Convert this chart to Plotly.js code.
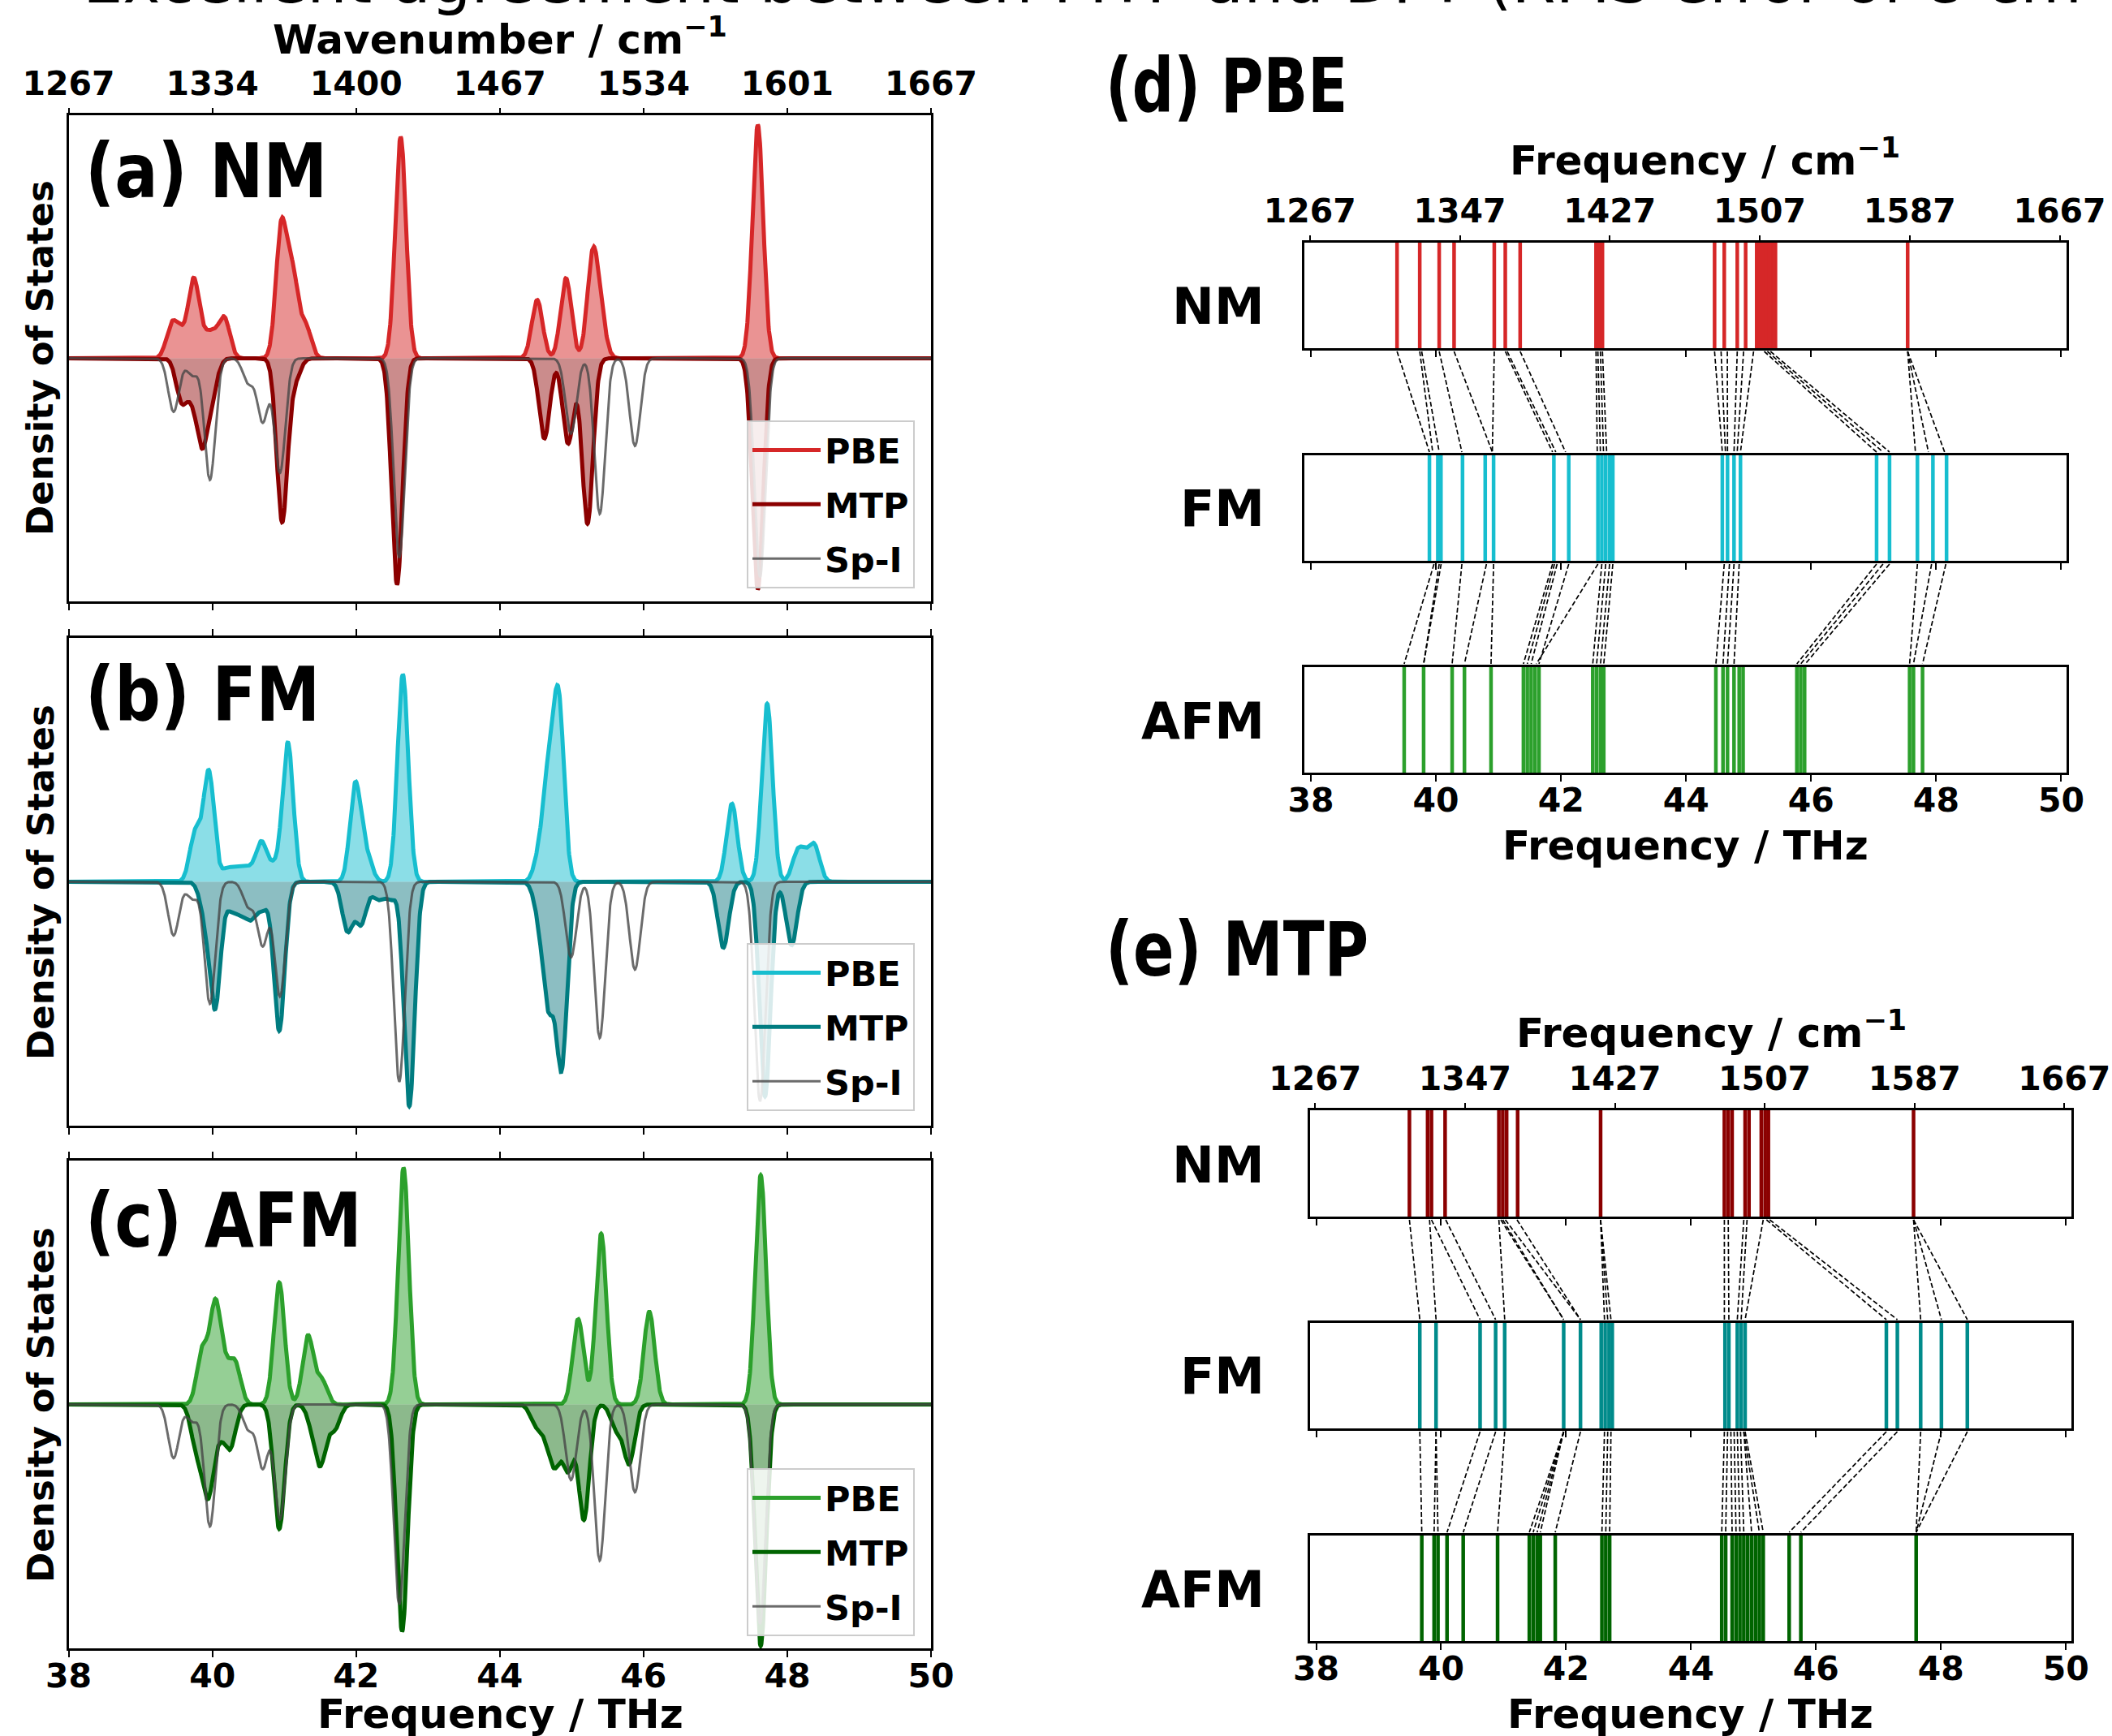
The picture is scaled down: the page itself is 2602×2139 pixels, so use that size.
<!DOCTYPE html>
<html><head><meta charset="utf-8">
<script src="https://cdn.plot.ly/plotly-3.0.1.min.js"></script>
<style>html,body{margin:0;padding:0;background:#fff}#chart{width:2602px;height:2139px}</style>
</head><body><div id="chart"></div>
<script>
// ---------------- DATA ----------------
const thz_ticks = [38, 40, 42, 44, 46, 48, 50];
const wn_top_labels = ['1267', '1334', '1400', '1467', '1534', '1601', '1667'];
const cm_ticks = [1267, 1347, 1427, 1507, 1587, 1667];

// DOS peaks (centre in THz, peak DOS in arbitrary units; MTP & Sp-I drawn downward)
const nm_pbe_thz = [39.43, 39.56, 39.74, 39.90, 40.02, 40.17, 40.96, 41.12, 41.30, 42.62, 44.52, 44.92, 45.29, 45.40, 47.59];
const nm_pbe_dos = [0.13, 0.09, 0.32, 0.07, 0.08, 0.16, 0.54, 0.33, 0.13, 0.91, 0.24, 0.33, 0.40, 0.15, 0.96];
const nm_mtp_thz = [39.57, 39.72, 39.86, 40.00, 40.97, 41.15, 42.57, 44.62, 44.95, 45.22, 47.59];
const nm_mtp_dos = [-0.17, -0.12, -0.33, -0.12, -0.67, -0.08, -0.93, -0.33, -0.35, -0.68, -0.95];

const fm_pbe_thz = [39.76, 39.95, 40.20, 40.35, 40.50, 40.68, 40.85, 41.05, 41.99, 42.15, 42.65, 44.55, 44.68, 44.82, 47.23, 47.72, 48.14, 48.25, 48.38];
const fm_pbe_dos = [0.20, 0.45, 0.05, 0.05, 0.05, 0.16, 0.06, 0.57, 0.40, 0.10, 0.85, 0.10, 0.40, 0.72, 0.32, 0.73, 0.11, 0.07, 0.14];
const fm_mtp_thz = [39.90, 40.04, 40.26, 40.40, 40.54, 40.70, 40.93, 41.88, 42.07, 42.30, 42.48, 42.74, 44.55, 44.68, 44.86, 47.11, 47.69, 48.06];
const fm_mtp_dos = [-0.12, -0.50, -0.10, -0.10, -0.13, -0.10, -0.61, -0.20, -0.17, -0.07, -0.07, -0.92, -0.12, -0.47, -0.75, -0.27, -0.88, -0.26];

const afm_pbe_thz = [39.86, 40.04, 40.18, 40.32, 40.93, 41.33, 41.52, 42.66, 45.09, 45.41, 46.08, 47.63];
const afm_pbe_dos = [0.22, 0.40, 0.12, 0.16, 0.50, 0.28, 0.10, 0.97, 0.35, 0.70, 0.38, 0.94];
const afm_mtp_thz = [39.78, 39.94, 40.10, 40.25, 40.93, 41.40, 41.51, 41.70, 42.64, 44.50, 44.65, 44.77, 44.95, 45.17, 45.62, 45.80, 47.63];
const afm_mtp_dos = [-0.18, -0.36, -0.10, -0.17, -0.51, -0.08, -0.22, -0.10, -0.93, -0.08, -0.10, -0.22, -0.26, -0.47, -0.10, -0.24, -0.99];

const spi_thz = [39.46, 39.72, 39.965, 40.50, 40.70, 40.94, 42.60, 44.99, 45.39, 45.88, 47.62];
const spi_dos = [-0.22, -0.07, -0.50, -0.10, -0.26, -0.47, -0.82, -0.31, -0.64, -0.36, -0.90];

// (d) PBE mode frequencies (THz)
const d_nm = [39.378, 39.741, 40.052, 40.290, 40.933, 41.109, 41.347, 42.560, 42.611, 42.663, 44.456, 44.611, 44.819, 44.953, 45.130, 45.180, 45.230, 45.280, 45.330, 45.380, 45.430, 47.544];
const d_fm = [39.896, 40.030, 40.080, 40.425, 40.788, 40.922, 41.886, 42.124, 42.591, 42.653, 42.715, 42.777, 42.829, 44.580, 44.663, 44.767, 44.870, 47.047, 47.254, 47.700, 47.948, 48.166];
const d_afm = [39.492, 39.803, 40.259, 40.456, 40.881, 41.399, 41.461, 41.523, 41.585, 41.648, 42.508, 42.570, 42.632, 42.684, 44.477, 44.591, 44.663, 44.767, 44.850, 44.912, 45.772, 45.834, 45.896, 47.575, 47.637, 47.782];
const d_nm_fm_from = [39.378, 39.741, 39.772, 40.052, 40.290, 40.933, 41.109, 41.140, 41.347, 42.560, 42.590, 42.630, 42.663, 44.456, 44.560, 44.660, 44.819, 44.920, 45.080, 45.250, 45.300, 45.350, 47.544, 47.544, 47.544];
const d_nm_fm_to = [39.896, 39.948, 40.052, 40.415, 40.902, 40.902, 41.865, 41.917, 42.073, 42.580, 42.630, 42.680, 42.730, 44.580, 44.630, 44.663, 44.767, 44.818, 44.870, 47.047, 47.150, 47.254, 47.668, 47.876, 48.135];
const d_fm_afm_from = [39.969, 40.052, 40.083, 40.415, 40.808, 40.922, 41.865, 41.896, 41.938, 42.124, 42.591, 42.653, 42.715, 42.777, 42.829, 44.611, 44.694, 44.767, 44.850, 47.047, 47.150, 47.254, 47.700, 47.927, 48.155];
const d_fm_afm_to = [39.492, 39.803, 39.803, 40.259, 40.456, 40.881, 41.399, 41.461, 41.523, 41.648, 41.606, 42.508, 42.570, 42.632, 42.684, 44.477, 44.591, 44.663, 44.767, 45.772, 45.834, 45.907, 47.575, 47.637, 47.782];

// (e) MTP mode frequencies (THz)
const e_nm = [39.493, 39.784, 39.846, 40.064, 40.925, 40.987, 41.049, 41.225, 42.553, 44.534, 44.596, 44.658, 44.866, 44.928, 45.125, 45.187, 45.239, 47.562];
const e_fm = [39.659, 39.919, 40.624, 40.873, 41.018, 41.962, 42.231, 42.563, 42.626, 42.688, 42.740, 44.544, 44.606, 44.741, 44.803, 44.866, 47.127, 47.303, 47.676, 48.008, 48.423];
const e_afm = [39.691, 39.888, 39.950, 40.095, 40.354, 40.904, 41.412, 41.474, 41.537, 41.588, 41.827, 42.574, 42.636, 42.698, 44.492, 44.555, 44.658, 44.721, 44.783, 44.845, 44.907, 44.970, 45.032, 45.094, 45.156, 45.571, 45.758, 47.604];
const e_nm_fm_from = [39.493, 39.815, 39.846, 40.074, 40.925, 40.956, 40.987, 41.028, 41.215, 42.553, 42.553, 42.553, 44.534, 44.596, 44.845, 44.897, 45.156, 45.208, 45.260, 47.562, 47.562, 47.562];
const e_nm_fm_to = [39.659, 39.919, 40.624, 40.873, 41.018, 41.962, 41.962, 42.231, 42.231, 42.615, 42.667, 42.719, 44.534, 44.606, 44.741, 44.803, 44.866, 47.127, 47.303, 47.676, 48.008, 48.423];
const e_fm_afm_from = [39.659, 39.919, 39.919, 40.624, 40.873, 41.018, 41.962, 41.962, 41.962, 41.962, 42.231, 42.615, 42.667, 42.719, 44.534, 44.586, 44.638, 44.690, 44.741, 44.793, 44.845, 44.845, 44.866, 47.127, 47.303, 47.676, 48.008, 48.423];
const e_fm_afm_to = [39.691, 39.888, 39.950, 40.095, 40.354, 40.904, 41.412, 41.474, 41.537, 41.588, 41.827, 42.574, 42.636, 42.698, 44.492, 44.555, 44.658, 44.721, 44.783, 44.845, 44.970, 45.094, 45.156, 45.571, 45.758, 47.604, 47.604, 47.604];

// ---------------- BUILD ----------------
const W = 2602, H = 2139;
const px = v => v / W, py = v => 1 - v / H;
const xdom = (a, b) => [a / W, b / W];
const ydom = (top, bot) => [1 - bot / H, 1 - top / H];
const F = 'DejaVu Sans, Noto Sans, sans-serif';
const CM_PER_THZ = 33.356;
const XR = [37.896, 50.085];

const SIGMA = 0.075;
const grid = [];
for (let i = 0; i <= 2400; i++) grid.push(+(38 + i * 0.005).toFixed(3));
function broaden(c, h) {
  return grid.map(x => { let s = 0; for (let k = 0; k < c.length; k++) { const d = x - c[k]; s += h[k] * Math.exp(-d * d / (2 * SIGMA * SIGMA)); } return s; });
}

const traces = [];
function dosPanel(xa, ya, leg, pbe, mtp, cols) {
  const yp = broaden(pbe[0], pbe[1]), ym = broaden(mtp[0], mtp[1]), ys = broaden(spi_thz, spi_dos);
  traces.push({x: grid, y: yp, xaxis: xa, yaxis: ya, type: 'scatter', mode: 'lines', fill: 'tozeroy', fillcolor: cols.pf, line: {width: 0, color: cols.p}, showlegend: false, hoverinfo: 'skip'});
  traces.push({x: grid, y: yp, xaxis: xa, yaxis: ya, type: 'scatter', mode: 'lines', line: {width: 5, color: cols.p}, name: 'PBE', legend: leg, legendgroup: leg + 'p'});
  traces.push({x: grid, y: ym, xaxis: xa, yaxis: ya, type: 'scatter', mode: 'lines', fill: 'tozeroy', fillcolor: cols.mf, line: {width: 0, color: cols.m}, showlegend: false, hoverinfo: 'skip'});
  traces.push({x: grid, y: ym, xaxis: xa, yaxis: ya, type: 'scatter', mode: 'lines', line: {width: 5, color: cols.m}, name: 'MTP', legend: leg, legendgroup: leg + 'm'});
  traces.push({x: grid, y: ys, xaxis: xa, yaxis: ya, type: 'scatter', mode: 'lines', line: {width: 3, color: 'rgba(70,70,70,0.8)'}, name: 'Sp-I', legend: leg, legendgroup: leg + 's'});
}
const C_NM = {p: '#d62728', pf: 'rgba(214,39,40,0.5)', m: '#8b0000', mf: 'rgba(139,0,0,0.45)'};
const C_FM = {p: '#17becf', pf: 'rgba(23,190,207,0.5)', m: '#007c80', mf: 'rgba(0,110,120,0.45)'};
const C_AFM = {p: '#2ca02c', pf: 'rgba(44,160,44,0.5)', m: '#006400', mf: 'rgba(0,100,0,0.45)'};
dosPanel('x', 'y', 'legend', [nm_pbe_thz, nm_pbe_dos], [nm_mtp_thz, nm_mtp_dos], C_NM);
dosPanel('x2', 'y2', 'legend2', [fm_pbe_thz, fm_pbe_dos], [fm_mtp_thz, fm_mtp_dos], C_FM);
dosPanel('x3', 'y3', 'legend3', [afm_pbe_thz, afm_pbe_dos], [afm_mtp_thz, afm_mtp_dos], C_AFM);

function vlines(arr, xa, ya, color) {
  const x = [], y = [];
  arr.forEach(f => { x.push(f, f, null); y.push(0, 1, null); });
  traces.push({x, y, xaxis: xa, yaxis: ya, type: 'scatter', mode: 'lines', line: {width: 4.5, color}, showlegend: false, hoverinfo: 'skip'});
}
function connect(from, to, y0, y1, xa, ya) {
  const x = [], y = [];
  from.forEach((f, i) => { x.push(f, to[i], null); y.push(y0, y1, null); });
  traces.push({x, y, xaxis: xa, yaxis: ya, type: 'scatter', mode: 'lines', line: {width: 1.7, color: '#000', dash: '6px,3px'}, showlegend: false, hoverinfo: 'skip'});
}
vlines(d_nm, 'x5', 'y5', '#d62728');
vlines(d_fm, 'x6', 'y6', '#17becf');
vlines(d_afm, 'x7', 'y7', '#2ca02c');
connect(d_nm_fm_from, d_nm_fm_to, 433, 557, 'x9', 'y9');
connect(d_fm_afm_from, d_fm_afm_to, 695, 818, 'x9', 'y9');
vlines(e_nm, 'x10', 'y10', '#8b0000');
vlines(e_fm, 'x11', 'y11', '#008b8b');
vlines(e_afm, 'x12', 'y12', '#006400');
connect(e_nm_fm_from, e_nm_fm_to, 1503, 1626, 'x14', 'y14');
connect(e_fm_afm_from, e_fm_afm_to, 1764, 1888, 'x14', 'y14');
// empty carriers so that the secondary (top) wavenumber axes get drawn
[['x4', 'y'], ['x8', 'y5'], ['x13', 'y10']].forEach(([xa, ya]) =>
  traces.push({x: [null], y: [null], xaxis: xa, yaxis: ya, type: 'scatter', mode: 'lines', showlegend: false, hoverinfo: 'skip'}));

// ---------------- LAYOUT ----------------
const tickF = {family: F, size: 41, weight: 700, color: '#000'};
function xax(dom, anchor, range, opts) {
  return Object.assign({domain: dom, anchor, range, autorange: false, tickvals: thz_ticks, ticks: 'outside', ticklen: 8, tickwidth: 2,
    tickcolor: '#000', showticklabels: false, tickfont: tickF, ticklabelstandoff: -12, showline: true, linewidth: 3, linecolor: '#000', mirror: true,
    showgrid: false, zeroline: false}, opts || {});
}
function yax(dom, anchor, range) {
  return {domain: dom, anchor, range, autorange: false, showticklabels: false, ticks: '', showline: true, linewidth: 3,
    linecolor: '#000', mirror: true, showgrid: false, zeroline: false};
}
function topax(over, anchor, range, vals, text) {
  return {overlaying: over, anchor, side: 'top', range, autorange: false, tickvals: vals, ticktext: text,
    ticks: 'outside', ticklen: 8, tickwidth: 2, tickcolor: '#000', tickfont: tickF, showticklabels: true, showline: false, showgrid: false, zeroline: false};
}
const LX = xdom(84.6, 1147);
const DX = xdom(1607, 2546);
const EX = xdom(1613.5, 2551.7);
const cm_pos = cm_ticks.map(c => c / CM_PER_THZ);
const cm_txt = cm_ticks.map(String);

function legendAt(top) {
  return {x: px(1127), xanchor: 'right', y: py(top), yanchor: 'top', bgcolor: 'rgba(255,255,255,0.85)', bordercolor: '#cccccc',
    borderwidth: 2, font: {family: F, size: 43, weight: 700, color: '#000'}, itemwidth: 84, tracegroupgap: 8, traceorder: 'grouped'};
}

const layout = {
  width: W, height: H, margin: {l: 0, r: 0, t: 0, b: 0}, paper_bgcolor: '#fff', plot_bgcolor: 'rgba(0,0,0,0)',
  xaxis: xax(LX, 'y', [38, 50]),
  yaxis: yax(ydom(142, 741), 'x', [-1, 1]),
  xaxis2: xax(LX, 'y2', [38, 50], {mirror: 'ticks'}),
  yaxis2: yax(ydom(786, 1387), 'x2', [-1, 1]),
  xaxis3: xax(LX, 'y3', [38, 50], {mirror: 'ticks', showticklabels: true}),
  yaxis3: yax(ydom(1430, 2031), 'x3', [-1, 1]),
  xaxis4: topax('x', 'y', [38, 50], thz_ticks, wn_top_labels),
  xaxis5: xax(DX, 'y5', XR), yaxis5: yax(ydom(299, 429), 'x5', [0, 1]),
  xaxis6: xax(DX, 'y6', XR), yaxis6: yax(ydom(561, 691), 'x6', [0, 1]),
  xaxis7: xax(DX, 'y7', XR, {showticklabels: true}), yaxis7: yax(ydom(822, 952), 'x7', [0, 1]),
  xaxis8: topax('x5', 'y5', XR, cm_pos, cm_txt),
  xaxis9: {domain: DX, anchor: 'y9', range: XR, autorange: false, visible: false},
  yaxis9: {domain: ydom(429, 822), anchor: 'x9', range: [822, 429], autorange: false, visible: false},
  xaxis10: xax(EX, 'y10', XR), yaxis10: yax(ydom(1368, 1499), 'x10', [0, 1]),
  xaxis11: xax(EX, 'y11', XR), yaxis11: yax(ydom(1630, 1760), 'x11', [0, 1]),
  xaxis12: xax(EX, 'y12', XR, {showticklabels: true}), yaxis12: yax(ydom(1892, 2022), 'x12', [0, 1]),
  xaxis13: topax('x10', 'y10', XR, cm_pos, cm_txt),
  xaxis14: {domain: EX, anchor: 'y14', range: XR, autorange: false, visible: false},
  yaxis14: {domain: ydom(1499, 1892), anchor: 'x14', range: [1892, 1499], autorange: false, visible: false},
  legend: legendAt(518), legend2: legendAt(1162), legend3: legendAt(1809),
  showlegend: true,
  annotations: []
};

function ann(text, x, y, opts) {
  layout.annotations.push(Object.assign({text, x: px(x), y: py(y), xref: 'paper', yref: 'paper', showarrow: false,
    xanchor: 'center', yanchor: 'middle', font: {family: F, size: 50, weight: 700, color: '#000'}}, opts || {}));
}
ann('Excellent agreement between MTP and DFT (RMS error of 8 cm<sup>−1</sup>)', 100, 23, {xanchor: 'left', yanchor: 'bottom', font: {family: F, size: 78, weight: 400, color: '#000'}});
ann('Wavenumber / cm<sup>−1</sup>', 616, 46);
ann('Frequency / THz', 616, 2112);
ann('Frequency / cm<sup>−1</sup>', 2100, 194);
ann('Frequency / THz', 2076, 1042);
ann('Frequency / cm<sup>−1</sup>', 2108, 1269);
ann('Frequency / THz', 2082, 2112);
[441, 1087, 1731].forEach(yc => ann('Density of States', 50, yc, {textangle: -90, font: {family: F, size: 45, weight: 700, color: '#000'}}));
const PL = {family: F, size: 92, weight: 700, color: '#000'};
ann('(a) NM', 103, 212, {xanchor: 'left', font: PL});
ann('(b) FM', 103, 857, {xanchor: 'left', font: PL});
ann('(c) AFM', 103, 1504, {xanchor: 'left', font: PL});
ann('(d) PBE', 1360, 107, {xanchor: 'left', font: PL});
ann('(e) MTP', 1360, 1170, {xanchor: 'left', font: PL});
const RL = {family: F, size: 62, weight: 700, color: '#000'};
[['NM', 377], ['FM', 626], ['AFM', 888], ['NM', 1435], ['FM', 1695], ['AFM', 1958]].forEach(([t, y]) =>
  ann(t, 1560, y, {xanchor: 'right', font: RL}));

// the panel letters of the reference are set in a horizontally condensed face
const condense = {'(a) NM': 0.86, '(b) FM': 0.86, '(c) AFM': 0.86, '(d) PBE': 0.78, '(e) MTP': 0.81};
Plotly.newPlot('chart', traces, layout, {displayModeBar: false, staticPlot: true}).then(gd => {
  gd.querySelectorAll('.annotation-text').forEach(t => {
    const k = condense[t.textContent];
    if (k) { t.style.transformBox = 'fill-box'; t.style.transformOrigin = '0% 50%'; t.style.transform = 'scaleX(' + k + ')'; }
  });
});
</script></body></html>
